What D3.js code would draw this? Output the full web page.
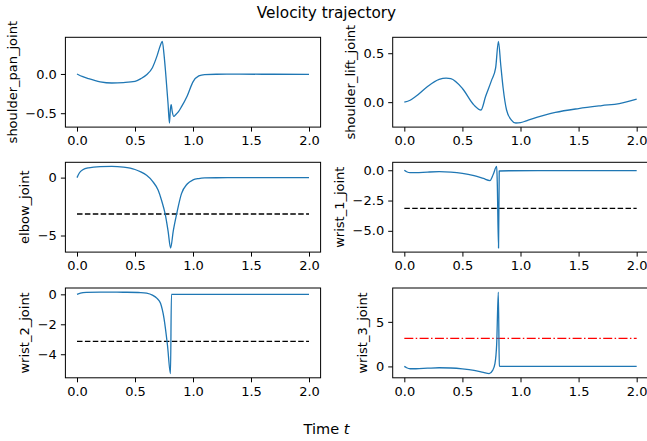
<!DOCTYPE html>
<html>
<head>
<meta charset="utf-8">
<script src="https://cdn.jsdelivr.net/npm/d3@7"></script>
<style>
  html, body { margin: 0; padding: 0; background: #fff; }
  svg { display: block; }
</style>
</head>
<body>
<svg id="chart" width="647" height="441"></svg>
<script>
// ---------------- data ----------------
const xTicks = [0.0, 0.5, 1.0, 1.5, 2.0];
const limitT = [0, 2];
const negPiLimit = [-3.1416, -3.1416];
const posPiLimit = [3.1416, 3.1416];

const tPan = [0, 0.05, 0.1, 0.2, 0.3, 0.4, 0.5, 0.55, 0.6, 0.65, 0.69, 0.72, 0.735, 0.75, 0.765, 0.785, 0.797, 0.805, 0.812, 0.82, 0.835, 0.85, 0.875, 0.9, 0.95, 1.0, 1.05, 1.1, 1.2, 1.4, 1.7, 2.0];
const vPan = [0, -0.035, -0.06, -0.1, -0.115, -0.11, -0.095, -0.06, -0.01, 0.08, 0.23, 0.37, 0.415, 0.25, 0.0, -0.38, -0.625, -0.45, -0.39, -0.47, -0.54, -0.52, -0.48, -0.42, -0.28, -0.1, -0.025, -0.008, -0.004, -0.003, -0.004, -0.005];
const panTicks = [-0.5, 0.0];

const tLift = [0, 0.05, 0.1, 0.2, 0.3, 0.36, 0.4, 0.5, 0.6, 0.66, 0.7, 0.75, 0.786, 0.81, 0.83, 0.85, 0.88, 0.92, 0.96, 1.0, 1.05, 1.1, 1.2, 1.3, 1.5, 1.7, 1.85, 2.0];
const vLift = [0, 0.02, 0.06, 0.16, 0.232, 0.245, 0.24, 0.14, -0.03, -0.08, 0.06, 0.22, 0.35, 0.621, 0.38, 0.15, -0.08, -0.18, -0.213, -0.21, -0.19, -0.17, -0.135, -0.105, -0.065, -0.035, -0.015, 0.03];
const liftTicks = [0.0, 0.5];

const tElbow = [0, 0.02, 0.05, 0.1, 0.2, 0.3, 0.4, 0.5, 0.55, 0.6, 0.65, 0.7, 0.73, 0.76, 0.785, 0.807, 0.83, 0.86, 0.9, 0.95, 1.0, 1.05, 1.1, 1.2, 1.4, 2.0];
const vElbow = [0, 0.4, 0.68, 0.85, 0.95, 0.97, 0.9, 0.7, 0.5, 0.2, -0.3, -1.1, -2.0, -3.14, -4.6, -6.08, -4.6, -3.1, -1.4, -0.55, -0.2, -0.08, -0.03, -0.01, -0.005, 0];
const elbowTicks = [-5, 0];

const tWrist1 = [0, 0.02, 0.05, 0.1, 0.2, 0.3, 0.4, 0.5, 0.6, 0.68, 0.737, 0.765, 0.795, 0.8, 0.811, 0.817, 0.9, 1.2, 2.0];
const vWrist1 = [0, -0.12, -0.2, -0.2, -0.15, -0.12, -0.15, -0.25, -0.45, -0.68, -0.85, -0.35, 0.32, -1.0, -6.42, -0.06, -0.04, -0.03, -0.03];
const wrist1Ticks = [-5.0, -2.5, 0.0];

const tWrist2 = [0, 0.03, 0.08, 0.2, 0.4, 0.55, 0.6, 0.65, 0.69, 0.72, 0.75, 0.78, 0.806, 0.814, 0.9, 2.0];
const vWrist2 = [0, 0.08, 0.13, 0.15, 0.14, 0.12, 0.08, -0.05, -0.27, -0.6, -1.6, -3.4, -5.3, 0.0, 0.0, 0.0];
const wrist2Ticks = [-4, -2, 0];

const tWrist3 = [0, 0.02, 0.05, 0.1, 0.2, 0.3, 0.4, 0.5, 0.6, 0.68, 0.73, 0.76, 0.78, 0.795, 0.809, 0.818, 0.83, 1.0, 2.0];
const vWrist3 = [0, -0.15, -0.26, -0.26, -0.2, -0.15, -0.18, -0.28, -0.45, -0.68, -0.82, -0.45, 0.3, 2.5, 8.34, 0.05, 0, 0, 0];
const wrist3Ticks = [0, 5];

const jointNames = ["shoulder_pan_joint", "shoulder_lift_joint", "elbow_joint", "wrist_1_joint", "wrist_2_joint", "wrist_3_joint"];

// ---------------- layout ----------------
const colX = [65.4, 392.7];
const colW = [255.2, 255.6];
const rowY = [37.3, 162.3, 288.0];
const rowH = 89.8;
const FONT = "DejaVu Sans, sans-serif";
const TICK_FS = 13;
const BLUE = "#1f77b4";

const panels = [
  { name: jointNames[0], t: tPan, v: vPan, ticks: panTicks, fmt: ".1f", ref: null },
  { name: jointNames[1], t: tLift, v: vLift, ticks: liftTicks, fmt: ".1f", ref: null },
  { name: jointNames[2], t: tElbow, v: vElbow, ticks: elbowTicks, fmt: "d", ref: { v: negPiLimit, color: "#000", dash: "5.5,2.4" } },
  { name: jointNames[3], t: tWrist1, v: vWrist1, ticks: wrist1Ticks, fmt: ".1f", ref: { v: negPiLimit, color: "#000", dash: "5.5,2.4" } },
  { name: jointNames[4], t: tWrist2, v: vWrist2, ticks: wrist2Ticks, fmt: "d", ref: { v: negPiLimit, color: "#000", dash: "5.5,2.4" } },
  { name: jointNames[5], t: tWrist3, v: vWrist3, ticks: wrist3Ticks, fmt: "d", ref: { v: posPiLimit, color: "#ff0000", dash: "9,2.4,1.5,2.4" } }
];

const svg = d3.select("#chart");

panels.forEach((p, i) => {
  const c = i % 2, r = Math.floor(i / 2);
  const x0 = colX[c], w = colW[c], y0 = rowY[r], h = rowH;

  const allT = p.t.concat(p.ref ? limitT : []);
  const allV = p.v.concat(p.ref ? p.ref.v : []);
  const [tmin, tmax] = d3.extent(allT);
  const [vmin, vmax] = d3.extent(allV);
  const tp = (tmax - tmin) * 0.05, vp = (vmax - vmin) * 0.05;

  const x = d3.scaleLinear().domain([tmin - tp, tmax + tp]).range([x0, x0 + w]);
  const y = d3.scaleLinear().domain([vmin - vp, vmax + vp]).range([y0 + h, y0]);

  const g = svg.append("g");
  const clipId = "clip" + i;
  g.append("clipPath").attr("id", clipId).append("rect")
    .attr("x", x0).attr("y", y0).attr("width", w).attr("height", h);

  const plot = g.append("g").attr("clip-path", `url(#${clipId})`);

  if (p.ref) {
    const refData = limitT.map((t, k) => [t, p.ref.v[k]]);
    plot.append("path")
      .datum(refData)
      .attr("d", d3.line().x(d => x(d[0])).y(d => y(d[1])))
      .attr("fill", "none")
      .attr("stroke", p.ref.color)
      .attr("stroke-width", 1.3)
      .attr("stroke-dasharray", p.ref.dash);
  }

  const pts = p.t.map((t, k) => [t, p.v[k]]);
  plot.append("path")
    .datum(pts)
    .attr("d", d3.line().curve(d3.curveMonotoneX).x(d => x(d[0])).y(d => y(d[1])))
    .attr("fill", "none")
    .attr("stroke", BLUE)
    .attr("stroke-width", 1.3)
    .attr("stroke-linejoin", "round");

  // axes
  const xa = g.append("g").attr("transform", `translate(0,${y0 + h})`)
    .call(d3.axisBottom(x).tickValues(xTicks).tickFormat(d3.format(".1f")).tickSize(4.5).tickPadding(4));
  const ya = g.append("g").attr("transform", `translate(${x0},0)`)
    .call(d3.axisLeft(y).tickValues(p.ticks).tickFormat(d3.format(p.fmt)).tickSize(4.5).tickPadding(4));
  [xa, ya].forEach(a => {
    a.select(".domain").remove();
    a.attr("font-family", FONT).attr("font-size", TICK_FS).attr("color", "#000");
    a.selectAll(".tick line").attr("stroke-width", 1);
  });

  // spines
  g.append("rect").attr("x", x0).attr("y", y0).attr("width", w).attr("height", h)
    .attr("fill", "none").attr("stroke", "#000").attr("stroke-width", 1);

  // y label positioned left of tick labels
  const bb = ya.node().getBBox();
  const tickLeft = x0 + bb.x;
  const labelX = tickLeft - 5.5 - 0.236 * TICK_FS;
  g.append("text")
    .attr("transform", `translate(${labelX},${y0 + h / 2}) rotate(-90)`)
    .attr("text-anchor", "middle")
    .attr("font-family", FONT)
    .attr("font-size", TICK_FS)
    .attr("fill", "#000")
    .text(p.name);
});

// titles
svg.append("text")
  .attr("x", 326.5).attr("y", 17.5)
  .attr("text-anchor", "middle")
  .attr("font-family", FONT).attr("font-size", 15.3)
  .attr("fill", "#000")
  .text("Velocity trajectory");

const xl = svg.append("text")
  .attr("x", 326.5).attr("y", 434)
  .attr("text-anchor", "middle")
  .attr("font-family", FONT).attr("font-size", 14.5)
  .attr("fill", "#000");
xl.append("tspan").text("Time ");
xl.append("tspan").attr("font-style", "italic").text("t");
</script>
</body>
</html>
